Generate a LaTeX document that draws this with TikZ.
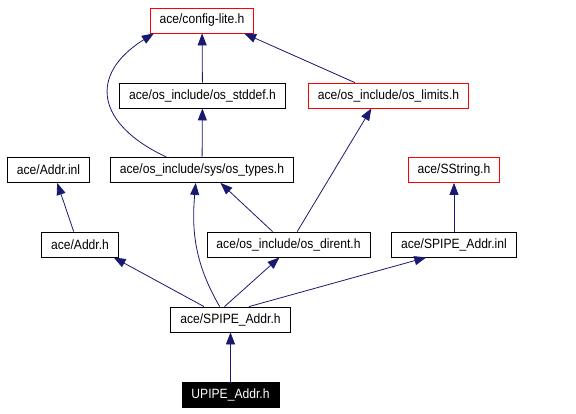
\documentclass[tikz,border=0pt]{standalone}
\usepackage{fontspec}
\setmainfont{Liberation Sans}[FakeStretch=0.9]
\usetikzlibrary{arrows.meta}
\definecolor{midblue}{HTML}{191970}
\begin{document}
\begin{tikzpicture}[x=1bp,y=1bp]
\tikzstyle{every node}+=[inner ysep=0pt, inner xsep=9.5bp, minimum height=25bp, line width=0.8bp, font=\fontsize{13.5}{15}\selectfont]
\tikzstyle{box}=[draw=black]
\tikzstyle{redbox}=[draw=red]
\tikzstyle{leaf}=[draw=black, fill=black, text=white]
\tikzstyle{dep}=[draw=midblue, line width=0.8bp, -{Triangle[length=12bp,width=9bp]}]
\useasboundingbox (0,0) rectangle (576,413);
\node [redbox] (cfg) at (202,392.5) {ace/config-lite.h};
\node [box] (stddef) at (202.5,317.5) {ace/os\_include/os\_stddef.h};
\node [redbox] (limits) at (388.5,317.5) {ace/os\_include/os\_limits.h};
\node [box] (addrinl) at (48.5,243) {ace/Addr.inl};
\node [box] (types) at (202,243) {ace/os\_include/sys/os\_types.h};
\node [redbox] (sstring) at (454,243) {ace/SString.h};
\node [box] (addrh) at (80,168.5) {ace/Addr.h};
\node [box] (dirent) at (288.5,168.5) {ace/os\_include/os\_dirent.h};
\node [box] (spinl) at (454,168.5) {ace/SPIPE\_Addr.inl};
\node [box] (spipeh) at (230.5,93.5) {ace/SPIPE\_Addr.h};
\node [leaf] (upipe) at (230.5,18.5) {UPIPE\_Addr.h};
\draw [dep] (stddef) -- (cfg);
\draw [dep] (types) -- (stddef);
\draw [dep] (types.160) to[out=155, in=212, looseness=1.6] (cfg.195);
\draw [dep] (limits.159) -- (cfg.343);
\draw [dep] (dirent.56) -- (limits.217);
\draw [dep] (dirent.141) -- (types.325);
\draw [dep] (addrh.116) -- (addrinl.304);
\draw [dep] (spinl) -- (sstring);
\draw [dep] (spipeh.154) -- (addrh.339);
\draw [dep] (spipeh.130) to[out=120, in=265] (types.244);
\draw [dep] (spipeh.115) -- (dirent.235);
\draw [dep] (spipeh.35) -- (spinl.205);
\draw [dep] (upipe) -- (spipeh);
\end{tikzpicture}
\end{document}
